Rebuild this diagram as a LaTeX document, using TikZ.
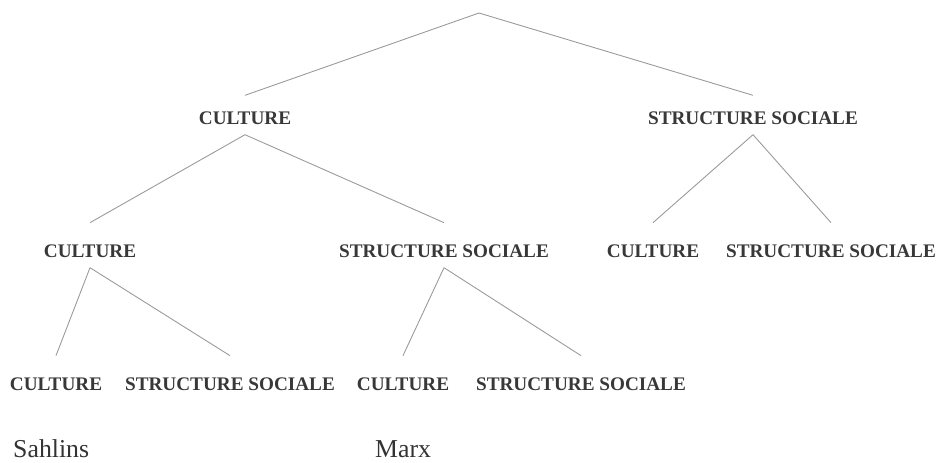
\documentclass[tikz,border=0pt]{standalone}
\usepackage{fontspec}
\setmainfont{Liberation Serif}
\usepackage{tikz}
\tikzstyle{term} = [font=\rmfamily\fontsize{16.4}{18}\selectfont\bfseries, text=black!78, inner sep=0pt]
\tikzstyle{author} = [font=\rmfamily\fontsize{22}{26}\selectfont, text=black!80, inner sep=0pt, anchor=base west]
\tikzstyle{branch} = [draw=black!40, line width=0.75pt]

\begin{document}
\begin{tikzpicture}[x=0.03cm, y=-0.03cm]
	\useasboundingbox (0,0) rectangle (939,462);
	\coordinate (root) at (479,13);
	% first level
	\node[term] (c) at (245,118) {CULTURE};
	\node[term] (s) at (753,118) {STRUCTURE SOCIALE};
	% second level
	\node[term] (cc) at (90,251) {CULTURE};
	\node[term] (cs) at (444,251) {STRUCTURE SOCIALE};
	\node[term] (sc) at (653,251) {CULTURE};
	\node[term] (ss) at (831,251) {STRUCTURE SOCIALE};
	% third level
	\node[term] (ccc) at (56,384) {CULTURE};
	\node[term] (ccs) at (230,384) {STRUCTURE SOCIALE};
	\node[term] (csc) at (403,384) {CULTURE};
	\node[term] (css) at (581,384) {STRUCTURE SOCIALE};
	\node[author] (sahlins) at (13,457) {Sahlins};
	\node[author] (marx) at (375,457) {Marx};
	% branches
	\draw[branch] ([yshift=0.48cm]c.north) -- (root) -- ([yshift=0.48cm]s.north);
	\foreach \p/\q in {c/cc, c/cs, s/sc, s/ss, cc/ccc, cc/ccs, cs/csc, cs/css}
		\draw[branch] ([yshift=-0.3cm]\p.south) -- ([yshift=0.65cm]\q.north);
\end{tikzpicture}
\end{document}
